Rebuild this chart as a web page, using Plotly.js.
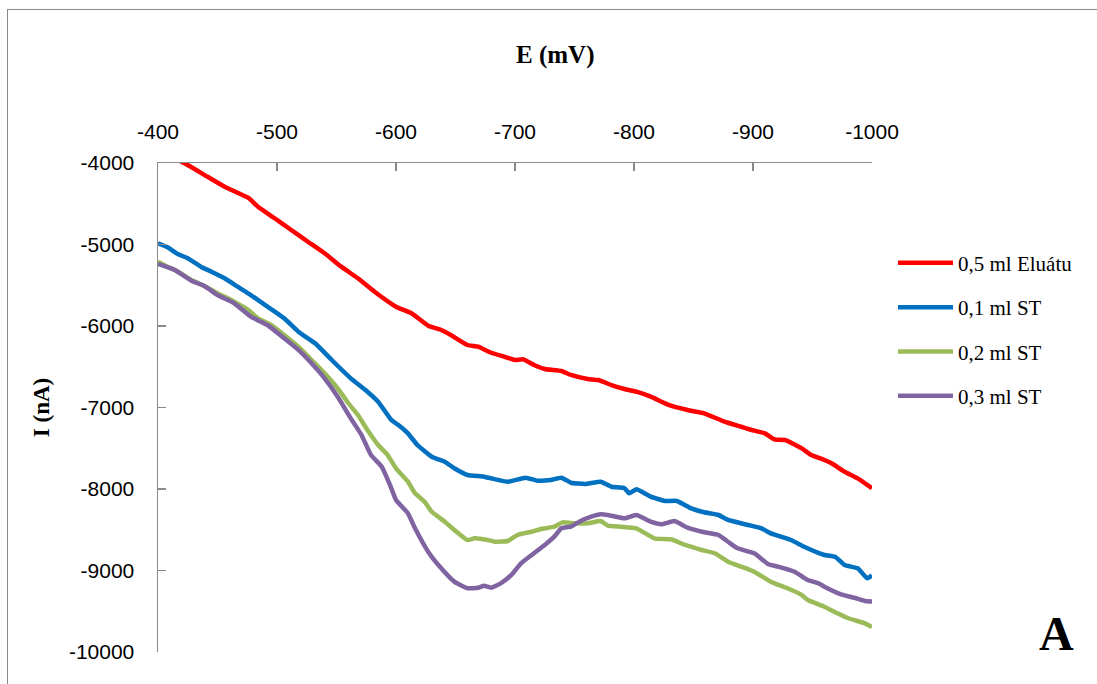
<!DOCTYPE html>
<html>
<head>
<meta charset="utf-8">
<script src="https://cdn.plot.ly/plotly-3.0.1.min.js"></script>
<style>
  html, body { margin: 0; padding: 0; background: #fff; overflow: hidden; }
  #wrap { position: relative; width: 1097px; height: 684px; }
  #chart { width: 1097px; height: 684px; }
  #frame { position: absolute; left: 7px; top: 9px; width: 1200px; height: 800px;
           border: 1.5px solid #8a8a8a; pointer-events: none; box-sizing: border-box; }
</style>
</head>
<body>
<div id="wrap">
  <div id="chart"></div>
  <div id="frame"></div>
</div>
<script>
// Series names
const seriesNames = ['0,5 ml Eluátu', '0,1 ml ST', '0,2 ml ST', '0,3 ml ST'];

// 0,5 ml Eluátu
const redE = [-400, -425, -442, -456, -476, -484, -498, -512, -526, -540, -554, -568, -582, -600,
  -613, -627, -638, -646, -660, -669, -680, -691, -700, -707, -716, -725, -739, -747, -761, -770,
  -781, -792, -802, -814, -829, -845, -859, -876, -890, -899, -910, -918, -927, -941, -949, -960,
  -966, -977, -988, -1000];
const redI = [-3830, -4025, -4172, -4291, -4429, -4536, -4678, -4822, -4966, -5108, -5272, -5415, -5579, -5763,
  -5844, -5996, -6049, -6110, -6233, -6254, -6328, -6377, -6417, -6409, -6479, -6528, -6552, -6601, -6650, -6663,
  -6724, -6773, -6806, -6867, -6969, -7031, -7071, -7174, -7236, -7276, -7317, -7390, -7399, -7501, -7583, -7644,
  -7685, -7788, -7869, -7991];

// 0,1 ml ST
const blueE = [-400, -408, -417, -425, -436, -445, -456, -467, -478, -492, -506, -518, -532, -546, -562,
  -576, -585, -596, -602, -610, -618, -630, -641, -649, -660, -674, -686, -694, -709, -719, -730, -739,
  -747, -759, -772, -781, -792, -796, -802, -814, -826, -836, -848, -859, -871, -879, -896, -907, -915,
  -932, -943, -960, -969, -977, -988, -996, -1000];
const blueI = [-4985, -5034, -5120, -5169, -5272, -5334, -5415, -5518, -5620, -5763, -5906, -6070, -6212, -6417, -6642,
  -6806, -6929, -7153, -7215, -7317, -7460, -7604, -7665, -7746, -7828, -7849, -7890, -7911, -7861, -7898, -7890, -7861,
  -7923, -7939, -7910, -7972, -7991, -8053, -8004, -8094, -8147, -8147, -8237, -8286, -8319, -8380, -8442, -8482, -8544,
  -8626, -8708, -8810, -8831, -8933, -8973, -9096, -9060];

// 0,2 ml ST
const greenE = [-400, -408, -417, -428, -439, -450, -464, -476, -484, -495, -506, -518, -529, -540, -551,
  -560, -568, -576, -585, -593, -600, -610, -616, -624, -630, -641, -649, -660, -666, -677, -683, -694,
  -702, -714, -722, -733, -740, -750, -761, -772, -778, -789, -802, -817, -831, -843, -857, -868, -879,
  -890, -901, -915, -929, -941, -946, -960, -971, -980, -994, -1000];
const greenI = [-5211, -5272, -5334, -5436, -5509, -5598, -5701, -5804, -5906, -5988, -6110, -6254, -6417, -6580, -6764,
  -6948, -7092, -7276, -7460, -7583, -7746, -7910, -8053, -8156, -8279, -8401, -8503, -8626, -8605, -8626, -8647, -8638,
  -8564, -8524, -8491, -8463, -8409, -8421, -8421, -8393, -8450, -8463, -8482, -8605, -8617, -8687, -8748, -8789, -8892,
  -8953, -9015, -9137, -9218, -9301, -9362, -9444, -9525, -9586, -9648, -9693];

// 0,3 ml ST
const purpleE = [-400, -414, -428, -439, -450, -464, -478, -492, -506, -518, -529, -540, -551, -562, -571,
  -579, -588, -595, -600, -610, -616, -627, -638, -649, -660, -669, -674, -680, -688, -697, -705, -714,
  -725, -733, -739, -747, -754, -764, -772, -781, -792, -802, -814, -823, -834, -845, -859, -871, -879,
  -887, -901, -913, -921, -935, -946, -955, -960, -974, -985, -994, -1000];
const purpleI = [-5239, -5313, -5444, -5509, -5620, -5721, -5886, -5988, -6151, -6294, -6458, -6642, -6867, -7133, -7337,
  -7583, -7726, -7951, -8135, -8298, -8482, -8769, -8973, -9137, -9218, -9211, -9187, -9211, -9157, -9055, -8912, -8810,
  -8687, -8585, -8482, -8463, -8401, -8340, -8310, -8328, -8360, -8319, -8401, -8433, -8393, -8475, -8531, -8564, -8647,
  -8728, -8789, -8924, -8953, -9015, -9117, -9157, -9199, -9292, -9334, -9374, -9380];

const xTicks = [-400, -500, -600, -700, -800, -900, -1000];
const yTicks = [-4000, -5000, -6000, -7000, -8000, -9000, -10000];

const colors = ['#FF0000', '#0070C0', '#9BBB59', '#8064A2'];
const xs = [redE, blueE, greenE, purpleE];
const ys = [redI, blueI, greenI, purpleI];

const traces = seriesNames.map((n, i) => ({
  type: 'scatter', mode: 'lines', name: n,
  x: xs[i], y: ys[i],
  legendgroup: 'g' + i,
  line: { color: colors[i], width: 4.5, shape: 'spline', smoothing: 0.4 }
}));

const tickFont = { family: 'Liberation Sans, Arial, sans-serif', size: 21, color: '#000' };
const serif = 'Liberation Serif, Times New Roman, serif';

const layout = {
  width: 1097, height: 684,
  margin: { l: 158, r: 225, t: 163, b: 32 },
  paper_bgcolor: '#fff', plot_bgcolor: '#fff',
  showlegend: true,
  xaxis: {
    side: 'top', range: [-400, -1000], autorange: false,
    tickvals: xTicks, ticktext: xTicks.map(String),
    ticks: 'inside', ticklen: 8, tickwidth: 1.5, tickcolor: '#8a8a8a',
    showline: true, linecolor: '#8a8a8a', linewidth: 1.5,
    showgrid: false, zeroline: false,
    tickfont: tickFont, ticklabelstandoff: 14
  },
  yaxis: {
    range: [-10000, -4000], autorange: false,
    tickvals: yTicks, ticktext: yTicks.map(String),
    ticks: 'inside', ticklen: 8, tickwidth: 1.5, tickcolor: '#8a8a8a',
    showline: true, linecolor: '#8a8a8a', linewidth: 1.5,
    showgrid: false, zeroline: false,
    tickfont: tickFont, ticklabelstandoff: 18,
    title: { text: 'I (nA)', font: { family: serif, size: 23, color: '#000', weight: 'bold' }, standoff: 13 }
  },
  legend: {
    x: 1.0294, y: 0.837, xanchor: 'left', yanchor: 'top',
    font: { family: serif, size: 21, color: '#000' },
    tracegroupgap: 14, bgcolor: 'rgba(0,0,0,0)', itemwidth: 55
  },
  annotations: [
    {
      // x-axis title (placed off-centre, as in the original)
      text: '<b>E (mV)</b>', xref: 'paper', yref: 'paper',
      x: (555 - 158) / 714, y: 1 + (163 - 55) / 489,
      xanchor: 'center', yanchor: 'middle', showarrow: false,
      font: { family: serif, size: 25, color: '#000' }
    },
    {
      text: '<b>A</b>', xref: 'paper', yref: 'paper', x: 1.258, y: 0.037,
      xanchor: 'center', yanchor: 'middle', showarrow: false,
      font: { family: serif, size: 48, color: '#000' }
    }
  ]
};

Plotly.newPlot('chart', traces, layout, { displayModeBar: false, staticPlot: true });
</script>
</body>
</html>
